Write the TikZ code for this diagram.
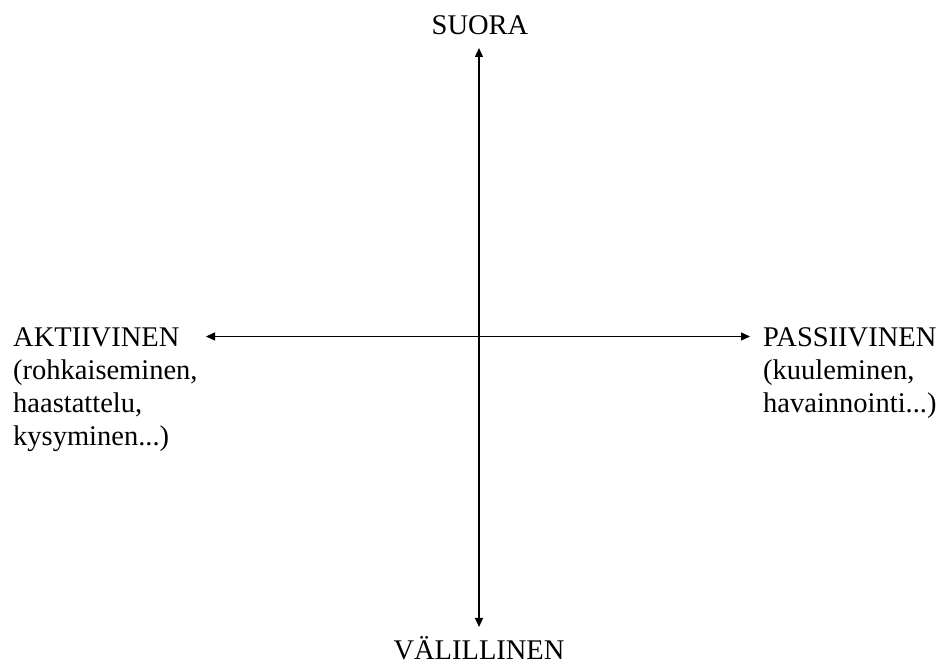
\documentclass[tikz,border=0pt]{standalone}
\usepackage{fontspec}
\setmainfont{Liberation Serif}
\usetikzlibrary{arrows.meta}
\begin{document}
\begin{tikzpicture}[x=1pt,y=1pt,
  axis/.style={line width=1.3pt, {Triangle[length=9pt,width=8pt]}-{Triangle[length=9pt,width=8pt]}},
  lbl/.style={inner sep=0pt, font=\fontsize{28.5}{32.7}\selectfont, align=left}]
\useasboundingbox (0,0) rectangle (943,666);
\coordinate (top) at (479,618);
\coordinate (bot) at (479,39);
\coordinate (lft) at (206,329.5);
\coordinate (rgt) at (750,329.5);
\draw[axis] (top) -- (bot);
\draw[axis] (lft) -- (rgt);
\node[lbl, anchor=base] (suora) at (480,631) {SUORA};
\node[lbl, anchor=base] (valillinen) at (479,6) {VÄLILLINEN};
\node[lbl, anchor=base west] (aktiivinen) at (13,220.9) {AKTIIVINEN\\(rohkaiseminen,\\haastattelu,\\kysyminen...)};
\node[lbl, anchor=base west] (passiivinen) at (763,253.6) {PASSIIVINEN\\(kuuleminen,\\havainnointi...)};
\end{tikzpicture}
\end{document}
